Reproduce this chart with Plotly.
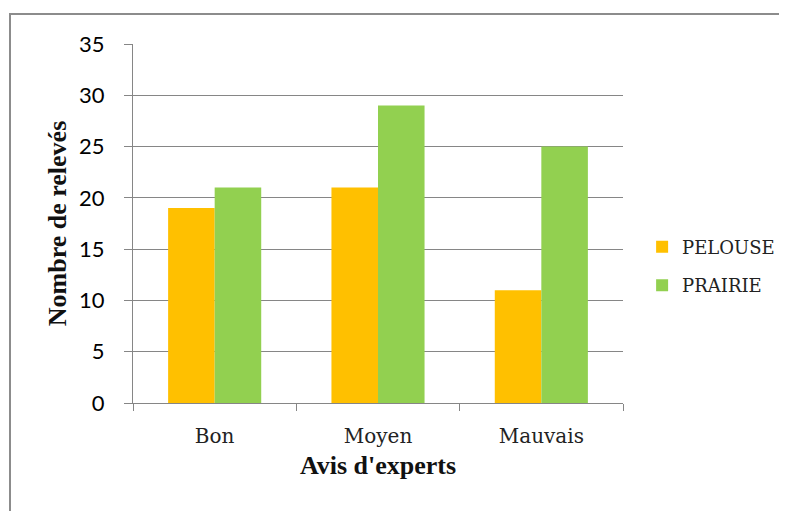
import plotly.graph_objects as go

categories = ["Bon", "Moyen", "Mauvais"]
pelouse = [19, 21, 11]
prairie = [21, 29, 25]
y_ticks = [0, 5, 10, 15, 20, 25, 30, 35]

GRAY = "#868686"
SERIF = "DejaVu Serif"
SERIF_B = "Liberation Serif"
OFF = 8  # page body margin

fig = go.Figure()
fig.add_trace(go.Bar(name="PELOUSE", x=categories, y=pelouse, marker=dict(color="#FFC000", line=dict(width=0)),
                     legendgroup="a"))
fig.add_trace(go.Bar(name="PRAIRIE", x=categories, y=prairie, marker=dict(color="#92D050", line=dict(width=0)),
                     legendgroup="b"))

fig.update_layout(
    width=787 - OFF, height=511 - OFF,
    font=dict(family=SERIF, color="#222"),
    margin=dict(l=133 - OFF, r=164, t=44 - OFF, b=108, autoexpand=False),
    paper_bgcolor="white", plot_bgcolor="white",
    barmode="group", bargap=0.43, bargroupgap=0,
    showlegend=True,
    legend=dict(x=1.039, xanchor="left", y=0.486, yanchor="top",
                font=dict(family=SERIF, size=18, color="#222"),
                tracegroupgap=12, bgcolor="rgba(0,0,0,0)"),
    xaxis=dict(
        type="category", showline=True, linecolor=GRAY, linewidth=1,
        ticks="outside", tickson="boundaries", ticklen=7, tickcolor=GRAY,
        tickfont=dict(family=SERIF, size=20, color="#222"),
        ticklabelstandoff=15,
        showgrid=False,
        title=dict(text="<b>Avis d'experts</b>", font=dict(family=SERIF_B, size=26, color="#111"), standoff=8),
    ),
    yaxis=dict(
        range=[0, 35], tickvals=y_ticks, showline=True, linecolor=GRAY, linewidth=1,
        ticks="outside", ticklen=8, tickcolor=GRAY,
        showgrid=True, gridcolor=GRAY, gridwidth=1,
        zeroline=False,
        tickfont=dict(family="Lato", size=22, color="#000"),
        ticklabelstandoff=15,
        title=dict(text="<b>Nombre de relevés</b>", font=dict(family=SERIF_B, size=26, color="#111"), standoff=4),
    ),
    shapes=[dict(type="rect", xref="paper", yref="paper",
                 x0=(10 - 133) / 490, x1=2.0, y0=-1.0, y1=(403 - 14) / 359,
                 line=dict(color="#8c8c8c", width=2), fillcolor="rgba(0,0,0,0)", layer="below")],
)

fig.write_html("out.html")
